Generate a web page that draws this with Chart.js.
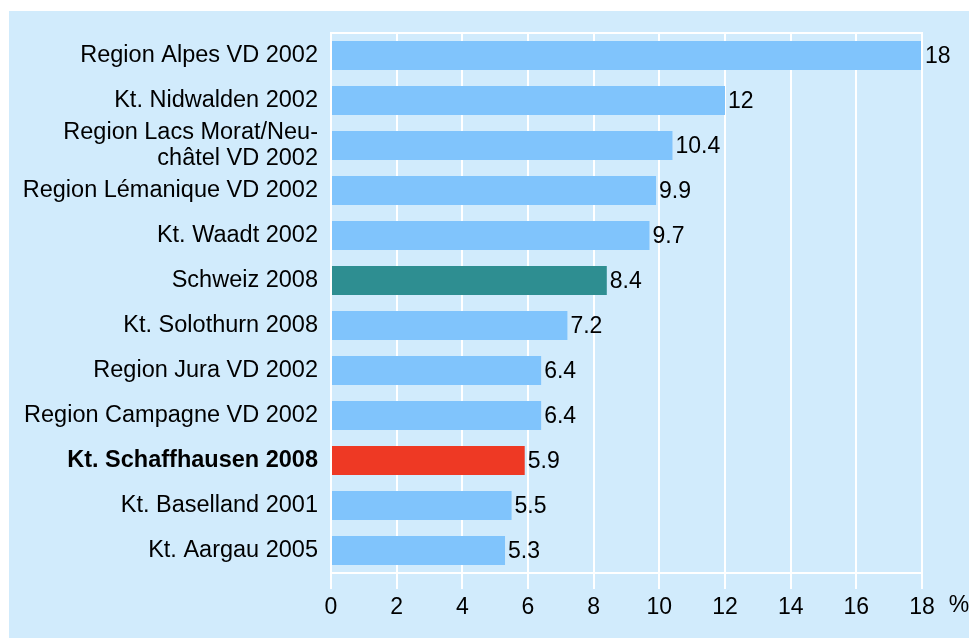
<!DOCTYPE html>
<html>
<head>
<meta charset="utf-8">
<script src="https://cdn.jsdelivr.net/npm/chart.js@4"></script>
<style>
  html, body { margin: 0; padding: 0; background: #fff; }
  canvas { display: block; }
</style>
</head>
<body>
<canvas id="chart" width="969" height="638"></canvas>
<script>
// Kategorien und Werte (in %)
const labels = [
    'Region Alpes VD 2002',
    'Kt. Nidwalden 2002',
    ['Region Lacs Morat/Neu-', 'châtel VD 2002'],
    'Region Lémanique VD 2002',
    'Kt. Waadt 2002',
    'Schweiz 2008',
    'Kt. Solothurn 2008',
    'Region Jura VD 2002',
    'Region Campagne VD 2002',
    'Kt. Schaffhausen 2008',
    'Kt. Baselland 2001',
    'Kt. Aargau 2005'
];
const values = [18, 12, 10.4, 9.9, 9.7, 8.4, 7.2, 6.4, 6.4, 5.9, 5.5, 5.3];
const xTicks = [0, 2, 4, 6, 8, 10, 12, 14, 16, 18];

const blue = 'rgb(128, 196, 252)';
const teal = 'rgb(46, 142, 145)';
const red = 'rgb(238, 57, 36)';
const panel = 'rgb(209, 235, 252)';
const FONT = 'Liberation Sans, Arial, Helvetica, sans-serif';

const barColors = labels.map(function (l, i) {
    if (i === 5) return teal;
    if (i === 9) return red;
    return blue;
});

// Hintergrund, Rahmen, Werte und Einheit
const extras = {
    id: 'extras',
    beforeDraw(chart) {
        const ctx = chart.ctx;
        ctx.save();
        ctx.fillStyle = panel;
        ctx.fillRect(9, 11, chart.width - 9, chart.height - 11);
        ctx.restore();
    },
    afterDatasetsDraw(chart) {
        const ctx = chart.ctx;
        const a = chart.chartArea;
        ctx.save();
        ctx.strokeStyle = '#fff';
        ctx.lineWidth = 2;
        ctx.strokeRect(a.left, a.top, a.right - a.left, a.bottom - a.top);
        ctx.font = '23px ' + FONT;
        ctx.fillStyle = '#000';
        ctx.textBaseline = 'middle';
        ctx.textAlign = 'left';
        chart.getDatasetMeta(0).data.forEach(function (bar, i) {
            ctx.fillText(String(values[i]), bar.x + 3, bar.y + 1);
        });
        ctx.textAlign = 'center';
        ctx.fillText('%', 959, 606);
        ctx.restore();
    }
};

new Chart(document.getElementById('chart'), {
    type: 'bar',
    data: {
        labels: labels,
        datasets: [{
            data: values,
            backgroundColor: barColors,
            borderWidth: 0,
            categoryPercentage: 1,
            barPercentage: 29 / 45
        }]
    },
    options: {
        indexAxis: 'y',
        responsive: false,
        animation: false,
        devicePixelRatio: 1,
        layout: { padding: { top: 33, right: 47, left: 0, bottom: 0 } },
        plugins: {
            legend: { display: false },
            tooltip: { enabled: false }
        },
        scales: {
            x: {
                min: 0,
                max: 18,
                afterBuildTicks(scale) {
                    scale.ticks = xTicks.map(function (v) { return { value: v }; });
                },
                afterFit(scale) { scale.height = 65; },
                grid: {
                    color: '#fff',
                    lineWidth: 2,
                    tickLength: 16
                },
                border: { color: '#fff', width: 2 },
                ticks: {
                    color: '#000',
                    padding: 5,
                    maxRotation: 0,
                    font: { family: FONT, size: 23 }
                }
            },
            y: {
                afterFit(scale) { scale.width = 331; },
                grid: { display: false },
                border: { display: false },
                ticks: {
                    color: '#000',
                    padding: 5,
                    autoSkip: false,
                    font: function (c) {
                        return {
                            family: FONT,
                            size: 23.5,
                            lineHeight: 1.08,
                            weight: c.index === 9 ? 'bold' : 'normal'
                        };
                    }
                }
            }
        }
    },
    plugins: [extras]
});
</script>
</body>
</html>
